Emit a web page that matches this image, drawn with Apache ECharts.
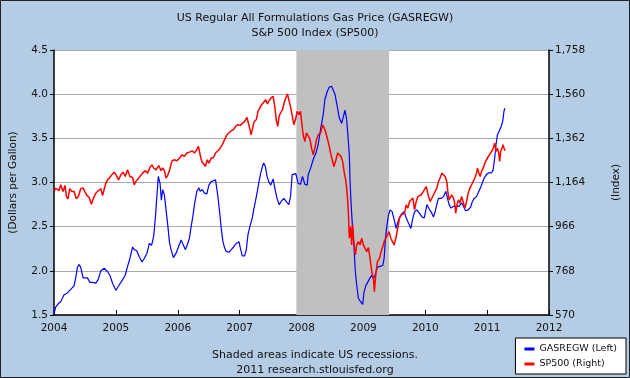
<!DOCTYPE html>
<html>
<head>
<meta charset="utf-8">
<script src="https://cdn.jsdelivr.net/npm/echarts@6/dist/echarts.min.js"></script>
<style>html,body{margin:0;padding:0;background:#b4cde4;}#c{width:630px;height:378px;}</style>
</head>
<body>
<div id="c"></div>
<script>
const titleLines = ['US Regular All Formulations Gas Price (GASREGW)', 'S&P 500 Index (SP500)'];
const footLines = ['Shaded areas indicate US recessions.', '2011 research.stlouisfed.org'];
const leftAxisName = '(Dollars per Gallon)';
const rightAxisName = '(Index)';
const gasName = 'GASREGW (Left)';
const spName = 'SP500 (Right)';
const recession = [2007.917, 2009.415];

const gasYear = [2004.000,2004.027,2004.070,2004.108,2004.162,2004.216,2004.270,2004.324,2004.351,2004.378,2004.405,2004.432,2004.470,2004.497,2004.541,2004.578,2004.622,2004.676,2004.714,2004.757,2004.811,2004.865,2004.903,2004.946,
2005.000,2005.054,2005.108,2005.151,2005.189,2005.227,2005.270,2005.297,2005.335,2005.378,2005.422,2005.459,2005.503,2005.541,2005.578,2005.611,2005.638,2005.659,2005.686,2005.714,2005.735,2005.757,2005.784,2005.811,2005.838,2005.865,2005.892,2005.930,2005.973,
2006.000,2006.054,2006.081,2006.124,2006.162,2006.189,2006.216,2006.243,2006.270,2006.308,2006.341,2006.362,2006.395,2006.432,2006.470,2006.503,2006.541,2006.578,2006.611,2006.649,2006.676,2006.703,2006.730,2006.757,2006.784,2006.827,2006.865,2006.903,2006.946,2006.989,
2007.011,2007.043,2007.081,2007.108,2007.135,2007.173,2007.205,2007.227,2007.259,2007.286,2007.314,2007.335,2007.368,2007.389,2007.416,2007.443,2007.470,2007.503,2007.541,2007.573,2007.605,2007.638,2007.676,2007.714,2007.757,2007.795,2007.822,2007.849,2007.876,2007.908,2007.946,2007.984,
2008.016,2008.054,2008.092,2008.108,2008.146,2008.189,2008.232,2008.270,2008.308,2008.351,2008.378,2008.416,2008.449,2008.486,2008.514,2008.541,2008.578,2008.611,2008.649,2008.676,2008.703,2008.730,2008.757,2008.773,2008.784,2008.800,2008.822,2008.849,2008.870,2008.892,2008.919,2008.946,2008.973,2008.989,
2009.011,2009.038,2009.070,2009.108,2009.135,2009.162,2009.189,2009.227,2009.270,2009.314,2009.335,2009.357,2009.378,2009.405,2009.432,2009.465,2009.497,2009.530,2009.551,2009.584,2009.622,2009.659,2009.692,2009.730,2009.768,2009.800,2009.827,2009.865,2009.908,2009.946,2009.984,
2010.027,2010.064,2010.107,2010.134,2010.160,2010.193,2010.214,2010.257,2010.294,2010.332,2010.364,2010.385,2010.417,2010.455,2010.481,2010.508,2010.545,2010.588,2010.615,2010.652,2010.695,2010.733,2010.759,2010.791,2010.829,2010.866,2010.898,2010.920,2010.952,2010.989,
2011.027,2011.070,2011.096,2011.123,2011.144,2011.166,2011.187,2011.209,2011.230,2011.251,2011.273,2011.289];
const gasPrice = [1.51,1.59,1.63,1.65,1.73,1.75,1.79,1.83,1.92,2.04,2.07,2.04,1.92,1.90,1.92,1.87,1.87,1.86,1.90,2.00,2.03,1.99,1.95,1.86,
1.78,1.84,1.90,1.95,2.05,2.14,2.27,2.24,2.23,2.16,2.10,2.14,2.20,2.31,2.29,2.39,2.60,2.61,3.07,2.99,2.80,2.92,2.86,2.69,2.52,2.33,2.24,2.15,2.20,
2.21,2.35,2.36,2.24,2.31,2.37,2.50,2.61,2.75,2.90,2.94,2.90,2.92,2.88,2.87,2.97,3.01,3.02,3.03,2.84,2.67,2.48,2.33,2.26,2.22,2.21,2.24,2.27,2.31,2.33,
2.26,2.17,2.17,2.24,2.41,2.52,2.60,2.69,2.80,2.90,3.01,3.09,3.18,3.22,3.18,3.07,3.01,2.97,3.04,2.92,2.82,2.75,2.79,2.82,2.78,2.75,2.84,3.09,3.11,3.10,2.99,2.98,
3.07,2.98,2.97,3.09,3.16,3.26,3.33,3.43,3.60,3.77,3.94,4.03,4.08,4.09,4.11,4.00,3.86,3.73,3.67,3.66,3.82,3.71,3.47,3.31,3.03,2.78,2.52,2.26,1.99,1.84,1.69,1.66,1.65,1.62,
1.76,1.83,1.84,1.92,1.95,1.91,1.95,2.04,2.05,2.06,2.14,2.37,2.50,2.63,2.69,2.67,2.58,2.48,2.54,2.60,2.65,2.67,2.60,2.54,2.48,2.60,2.67,2.69,2.65,2.61,2.60,
2.75,2.70,2.65,2.61,2.67,2.77,2.82,2.82,2.84,2.90,2.92,2.75,2.71,2.73,2.75,2.73,2.73,2.77,2.75,2.68,2.69,2.72,2.78,2.82,2.84,2.90,2.95,2.97,3.05,3.09,
3.11,3.11,3.14,3.28,3.43,3.54,3.57,3.58,3.64,3.69,3.81,3.84];

const spYear = [2004.000,2004.027,2004.054,2004.081,2004.108,2004.146,2004.178,2004.200,2004.227,2004.254,2004.286,2004.324,2004.362,2004.395,2004.432,2004.470,2004.497,2004.530,2004.568,2004.605,2004.638,2004.676,2004.714,2004.757,2004.784,2004.811,2004.838,2004.865,2004.903,2004.935,2004.973,
2005.000,2005.043,2005.081,2005.119,2005.151,2005.189,2005.227,2005.270,2005.297,2005.324,2005.351,2005.389,2005.432,2005.476,2005.514,2005.551,2005.584,2005.611,2005.649,2005.692,2005.730,2005.757,2005.784,2005.811,2005.838,2005.865,2005.908,2005.946,2005.984,
2006.027,2006.070,2006.108,2006.146,2006.189,2006.232,2006.270,2006.308,2006.335,2006.362,2006.389,2006.416,2006.449,2006.476,2006.503,2006.541,2006.578,2006.611,2006.649,2006.686,2006.719,2006.757,2006.795,2006.827,2006.865,2006.903,2006.935,2006.973,
2007.011,2007.043,2007.081,2007.119,2007.141,2007.162,2007.184,2007.205,2007.232,2007.270,2007.297,2007.324,2007.357,2007.389,2007.422,2007.449,2007.476,2007.508,2007.541,2007.568,2007.595,2007.616,2007.638,2007.659,2007.692,2007.719,2007.746,2007.773,2007.795,2007.822,2007.849,2007.876,2007.903,2007.930,2007.957,2007.984,
2008.000,2008.027,2008.054,2008.081,2008.108,2008.135,2008.162,2008.189,2008.216,2008.243,2008.270,2008.308,2008.341,2008.368,2008.395,2008.422,2008.449,2008.476,2008.503,2008.524,2008.557,2008.584,2008.611,2008.638,2008.665,2008.692,2008.714,2008.730,2008.746,2008.762,2008.773,2008.795,2008.811,2008.827,2008.849,2008.870,2008.892,2008.919,2008.946,2008.973,
2009.000,2009.027,2009.054,2009.081,2009.108,2009.135,2009.162,2009.178,2009.200,2009.227,2009.259,2009.286,2009.314,2009.335,2009.362,2009.389,2009.416,2009.443,2009.470,2009.497,2009.524,2009.551,2009.584,2009.611,2009.638,2009.665,2009.692,2009.719,2009.746,2009.773,2009.800,2009.827,2009.854,2009.881,2009.908,2009.935,2009.962,2009.989,
2010.016,2010.053,2010.080,2010.107,2010.134,2010.160,2010.187,2010.214,2010.241,2010.267,2010.294,2010.321,2010.348,2010.364,2010.385,2010.406,2010.428,2010.455,2010.471,2010.492,2010.513,2010.535,2010.561,2010.588,2010.615,2010.642,2010.668,2010.695,2010.722,2010.749,2010.775,2010.802,2010.829,2010.845,2010.866,2010.888,2010.909,2010.936,2010.963,2010.989,
2011.016,2011.043,2011.070,2011.096,2011.123,2011.144,2011.166,2011.187,2011.203,2011.219,2011.241,2011.257,2011.273,2011.289];
const spIndex = [1124,1139,1146,1127,1154,1124,1151,1102,1091,1136,1124,1124,1091,1102,1136,1139,1124,1106,1097,1067,1094,1116,1127,1136,1106,1101,1161,1176,1187,1199,1210,
1199,1176,1199,1210,1191,1221,1191,1187,1154,1169,1169,1191,1206,1217,1206,1232,1243,1229,1221,1240,1217,1229,1217,1184,1196,1217,1261,1266,1261,
1273,1288,1281,1296,1300,1306,1296,1311,1326,1288,1258,1266,1236,1266,1251,1273,1276,1296,1306,1318,1333,1356,1378,1386,1396,1401,1416,1423,
1420,1426,1438,1456,1460,1408,1378,1401,1435,1446,1483,1498,1513,1520,1535,1516,1531,1543,1550,1505,1438,1416,1460,1475,1490,1520,1543,1561,1535,1505,1513,1423,1446,1483,1468,1483,
1440,1378,1348,1386,1378,1360,1318,1288,1318,1356,1378,1386,1423,1408,1386,1356,1326,1288,1258,1236,1266,1296,1288,1281,1258,1206,1176,1139,1086,1004,914,967,884,974,884,839,884,899,884,914,
884,869,854,872,824,765,735,675,750,809,824,854,877,899,914,922,944,914,899,884,914,952,1004,1019,1016,1026,1064,1049,1079,1071,1094,1041,1079,1101,1094,1109,1121,1124,
1146,1101,1079,1071,1109,1101,1139,1169,1184,1206,1214,1191,1169,1124,1086,1079,1109,1094,1079,1026,1064,1086,1071,1101,1094,1049,1079,1116,1139,1154,1169,1184,1206,1228,1206,1191,1214,1228,1251,1266,
1273,1291,1303,1315,1341,1303,1318,1296,1258,1303,1318,1333,1318,1306];

const gasData = gasYear.map((t, i) => [t, gasPrice[i]]);
const spData = spYear.map((t, i) => [t, spIndex[i]]);

const FONT = 'DejaVu Sans';
const chart = echarts.init(document.getElementById('c'), null, {renderer: 'canvas'});
chart.setOption({
  backgroundColor: '#b4cde4',
  animation: false,
  textStyle: {fontFamily: FONT},
  title: {
    text: titleLines.join('\n'),
    left: 'center', top: 6,
    textStyle: {fontFamily: FONT, fontSize: 11, fontWeight: 'normal', color: '#111', lineHeight: 15}
  },
  grid: {left: 52, right: 80, top: 50, bottom: 63, containLabel: false, show: true, backgroundColor: '#fff', borderWidth: 0},
  legend: {
    orient: 'vertical', right: 4, bottom: 4,
    backgroundColor: '#fff', borderColor: '#000', borderWidth: 1, borderRadius: 0,
    padding: [6, 9, 5, 9], itemGap: 5, itemWidth: 10, itemHeight: 3, icon: 'rect',
    textStyle: {fontFamily: FONT, fontSize: 9.5, color: '#111'},
    data: [gasName, spName]
  },
  graphic: [
    {type: 'text', left: 'center', top: 348, style: {text: footLines.join('\n'), font: '11px "DejaVu Sans"', fill: '#111', textAlign: 'center', lineHeight: 15}},
    {type: 'rect', shape: {x: 0.5, y: 0.5, width: 629, height: 377}, style: {fill: 'none', stroke: '#222', lineWidth: 1}, z: 100}
  ],
  xAxis: {
    type: 'value', min: 2004, max: 2012, interval: 1,
    axisLine: {lineStyle: {color: '#000', width: 1.5}},
    axisTick: {inside: true, length: 5, lineStyle: {color: '#000'}},
    splitLine: {show: false},
    axisLabel: {formatter: v => String(v), color: '#111', fontSize: 10.5, fontFamily: FONT, margin: 8}
  },
  yAxis: [
    {
      type: 'value', min: 1.5, max: 4.5, interval: 0.5, position: 'left',
      name: leftAxisName, nameLocation: 'middle', nameGap: 35, nameRotate: 90,
      nameTextStyle: {fontFamily: FONT, fontSize: 10.5, color: '#111'},
      axisLine: {show: true, lineStyle: {color: '#000', width: 1.5}},
      axisTick: {show: true, length: 4, lineStyle: {color: '#000'}},
      splitLine: {show: true, lineStyle: {color: '#aaa', width: 1}},
      axisLabel: {formatter: v => v.toFixed(1), color: '#111', fontSize: 10.5, fontFamily: FONT, margin: 6}
    },
    {
      type: 'value', min: 570, max: 1758, interval: 198, position: 'right',
      name: rightAxisName, nameLocation: 'middle', nameGap: 62, nameRotate: 90,
      nameTextStyle: {fontFamily: FONT, fontSize: 10.5, color: '#111'},
      axisLine: {show: true, lineStyle: {color: '#000', width: 1.5}},
      axisTick: {show: true, length: 4, lineStyle: {color: '#000'}},
      splitLine: {show: false},
      axisLabel: {formatter: v => v.toLocaleString('en-US'), color: '#111', fontSize: 10.5, fontFamily: FONT, margin: 6}
    }
  ],
  series: [
    {
      name: gasName, type: 'line', yAxisIndex: 0, data: gasData, showSymbol: false, symbol: 'none',
      lineStyle: {color: '#0000ff', width: 1.2}, itemStyle: {color: '#0000ff'}, z: 3,
      markArea: {silent: true, itemStyle: {color: '#c0c0c0', opacity: 1}, data: [[{xAxis: recession[0]}, {xAxis: recession[1]}]]}
    },
    {
      name: spName, type: 'line', yAxisIndex: 1, data: spData, showSymbol: false, symbol: 'none',
      lineStyle: {color: '#ff0000', width: 1.5}, itemStyle: {color: '#ff0000'}, z: 4
    }
  ]
});
</script>
</body>
</html>
